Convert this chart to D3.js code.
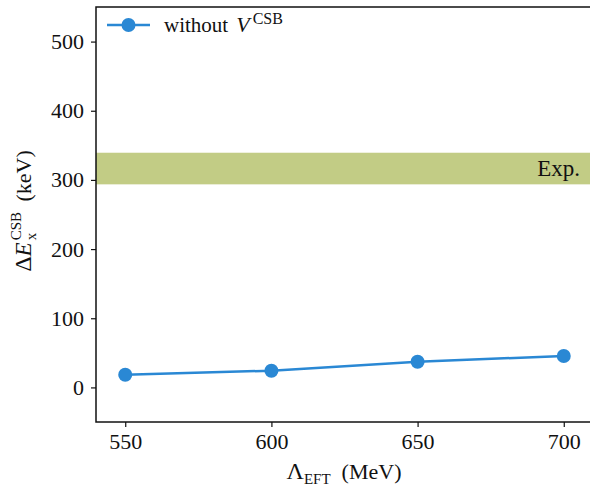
<!DOCTYPE html>
<html>
<head>
<meta charset="utf-8">
<script src="https://cdn.jsdelivr.net/npm/d3@7"></script>
<style>
  body { margin: 0; background: #fff; }
  svg text { font-family: "Liberation Serif", "DejaVu Serif", serif; fill: #111; }
</style>
</head>
<body>
<svg id="chart" width="590" height="486"></svg>
<script>
// Isospin-breaking energy shift versus the EFT cutoff
const cutoffs = [550, 600, 650, 700];
const shiftWithoutVcsb = [18.4, 24.2, 37.2, 45.4];
const expBand = [293.6, 339.3];
const xTicks = [550, 600, 650, 700];
const yTicks = [0, 100, 200, 300, 400, 500];

const W = 590, H = 486;
const margin = { left: 96, top: 7, right: -3, bottom: 64 };
const lineColor = "#2a88d4";
const bandColor = "#c2cc85";
const fs = 22;

const svg = d3.select("#chart");
const x = d3.scaleLinear().domain([540, 710]).range([margin.left, W - margin.right]);
const y = d3.scaleLinear().domain([-50, 550]).range([H - margin.bottom, margin.top]);

// experimental band
svg.append("rect")
  .attr("x", margin.left).attr("width", W - margin.right - margin.left)
  .attr("y", y(expBand[1])).attr("height", y(expBand[0]) - y(expBand[1]))
  .attr("fill", bandColor);

svg.append("text")
  .attr("x", 580).attr("y", 176)
  .attr("text-anchor", "end").attr("font-size", 23)
  .text("Exp.");

// axes
const xAxis = d3.axisBottom(x).tickValues(xTicks).tickSize(5).tickPadding(6).tickFormat(d3.format("d"));
const yAxis = d3.axisLeft(y).tickValues(yTicks).tickSize(5).tickPadding(7).tickFormat(d3.format("d"));

const gx = svg.append("g").attr("transform", `translate(0,${H - margin.bottom})`).call(xAxis);
const gy = svg.append("g").attr("transform", `translate(${margin.left},0)`).call(yAxis);
[gx, gy].forEach(g => {
  g.select(".domain").remove();
  g.selectAll(".tick line").attr("stroke", "#111").attr("stroke-width", 1.2);
  g.selectAll(".tick text").attr("font-size", fs).attr("fill", "#111")
    .style("font-family", "'Liberation Serif', serif");
});

// frame
svg.append("rect")
  .attr("x", margin.left).attr("y", margin.top)
  .attr("width", W - margin.right - margin.left).attr("height", H - margin.bottom - margin.top)
  .attr("fill", "none").attr("stroke", "#111").attr("stroke-width", 1.5);

// series
const line = d3.line().x((d, i) => x(cutoffs[i])).y(d => y(d));
svg.append("path").datum(shiftWithoutVcsb)
  .attr("d", line).attr("fill", "none").attr("stroke", lineColor).attr("stroke-width", 2.5);
svg.selectAll("circle.pt").data(shiftWithoutVcsb).enter().append("circle")
  .attr("class", "pt")
  .attr("cx", (d, i) => x(cutoffs[i])).attr("cy", d => y(d)).attr("r", 7)
  .attr("fill", lineColor);

// legend
const lg = svg.append("g").attr("transform", "translate(107,25)");
lg.append("line").attr("x1", 0).attr("x2", 43).attr("y1", 0).attr("y2", 0)
  .attr("stroke", lineColor).attr("stroke-width", 2.5);
lg.append("circle").attr("cx", 21.5).attr("cy", 0).attr("r", 7).attr("fill", lineColor);
const lt = lg.append("text").attr("x", 57).attr("y", 7).attr("font-size", 21);
lt.append("tspan").text("without");
lt.append("tspan").attr("dx", 8).attr("font-style", "italic").attr("font-size", 22).text("V");
lt.append("tspan").attr("dx", 3).attr("dy", -8).attr("font-size", 16).text("CSB");

// x label
const xl = svg.append("text").attr("x", 344).attr("y", 479).attr("text-anchor", "middle").attr("font-size", fs);
xl.append("tspan").attr("font-size", 24).text("Λ");
xl.append("tspan").attr("dy", 5).attr("font-size", 15).text("EFT");
xl.append("tspan").attr("dx", 11).attr("dy", -5).text("(MeV)");

// y label
const yl = svg.append("g").attr("transform", "translate(31,211) rotate(-90)");
const ylt = yl.append("text").attr("text-anchor", "middle").attr("font-size", fs);
ylt.append("tspan").attr("font-size", 24).text("Δ");
ylt.append("tspan").attr("font-style", "italic").attr("font-size", 23).text("E");
const sup = ylt.append("tspan").attr("dx", 2).attr("dy", -10).attr("font-size", 15).text("CSB");
const supW = sup.node().getComputedTextLength();
ylt.append("tspan").attr("dx", -supW).attr("dy", 15).attr("font-size", 15).text("x");
const subW = 8;
ylt.append("tspan").attr("dx", supW - subW + 11).attr("dy", -5).text("(keV)");
</script>
</body>
</html>
